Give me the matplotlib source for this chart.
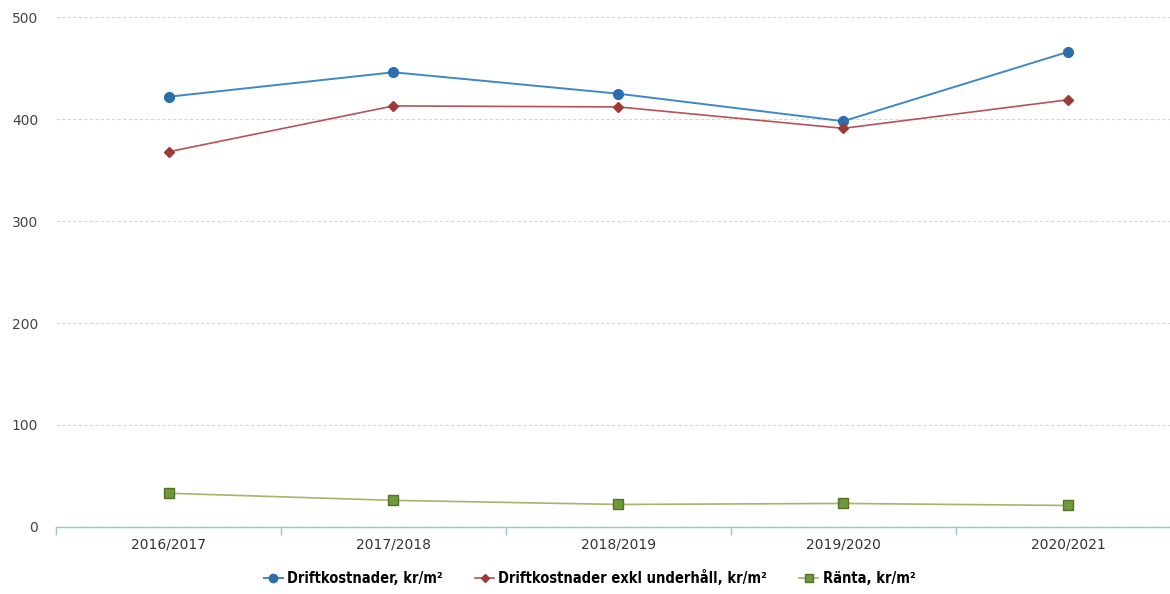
import matplotlib
matplotlib.use('Agg')
import matplotlib.pyplot as plt
from matplotlib.lines import Line2D

# Kostnader per kvadratmeter per verksamhetsår
years = ['2016/2017', '2017/2018', '2018/2019', '2019/2020', '2020/2021']
driftkostnader = [422, 446, 425, 398, 466]
drift_exkl_underhall = [368, 413, 412, 391, 419]
ranta = [33, 26, 22, 23, 21]

plt.rcParams['font.family'] = 'DejaVu Sans'

fig = plt.figure(figsize=(11.7, 5.94), dpi=100)
ax = fig.add_axes([0.048, 0.113, 0.961, 0.858])

x = range(len(years))
ax.plot(x, driftkostnader, color='#3f88c5', linewidth=1.4, marker='o',
        markersize=7, markerfacecolor='#2a6fad', markeredgecolor='#2a6fad',
        label='Driftkostnader, kr/m²', zorder=3)
ax.plot(x, drift_exkl_underhall, color='#b5525a', linewidth=1.2, marker='D',
        markersize=5, markerfacecolor='#9e3a35', markeredgecolor='#9e3a35',
        label='Driftkostnader exkl underhåll, kr/m²', zorder=3)
ax.plot(x, ranta, color='#a6b36a', linewidth=1.2, marker='s',
        markersize=7, markerfacecolor='#6f9a3a', markeredgecolor='#55702d',
        label='Ränta, kr/m²', zorder=3)

ax.set_xlim(-0.5, len(years) - 0.5)
ax.set_ylim(0, 500)
ax.set_yticks([0, 100, 200, 300, 400, 500])
ax.set_xticks(list(x))
ax.set_xticklabels(years)
ax.set_xticks([i - 0.5 for i in range(len(years) + 1)], minor=True)

ax.grid(True, axis='y', color='#d0d8dd', linestyle=(0, (3, 2)), linewidth=0.8)
ax.set_axisbelow(True)
for side in ['top', 'right', 'left']:
    ax.spines[side].set_visible(False)
ax.spines['bottom'].set_color('#9cc3e0')
ax.spines['bottom'].set_linewidth(1.0)

ax.tick_params(axis='y', length=0, labelsize=10, colors='#444444', pad=13)
ax.tick_params(axis='x', which='major', length=0, labelsize=10,
               colors='#333333', pad=8)
ax.tick_params(axis='x', which='minor', length=6, color='#9cc3e0', width=1)

handles = [
    Line2D([], [], color='#3f88c5', marker='o', markersize=6,
           markerfacecolor='#2a6fad', markeredgecolor='#2a6fad', linewidth=1.4),
    Line2D([], [], color='#b5525a', marker='D', markersize=4,
           markerfacecolor='#9e3a35', markeredgecolor='#9e3a35', linewidth=1.2),
    Line2D([], [], color='#a6b36a', marker='s', markersize=6,
           markerfacecolor='#6f9a3a', markeredgecolor='#55702d', linewidth=1.2),
]
labels = ['Driftkostnader, kr/m²', 'Driftkostnader exkl underhåll, kr/m²',
          'Ränta, kr/m²']
fig.legend(handles, labels, loc='center', bbox_to_anchor=(0.504, 0.027),
           ncol=3, frameon=False, handlelength=1.3,
           handletextpad=0.3, columnspacing=2.2,
           prop={'weight': 'bold', 'size': 10.5, 'stretch': 'condensed'})

fig.savefig('out.png', dpi=100)
